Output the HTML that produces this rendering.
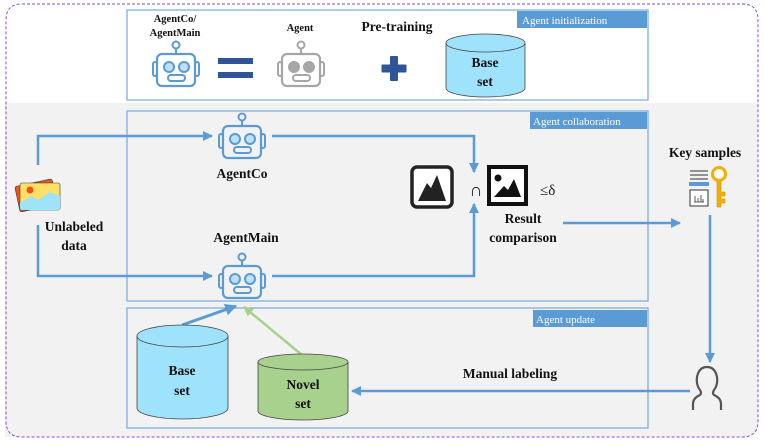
<!DOCTYPE html>
<html><head><meta charset="utf-8"><style>
html,body{margin:0;padding:0;background:#fff;}
svg{display:block;font-family:"Liberation Serif",serif;}
.b{font-weight:bold;fill:#111;}
</style></head><body>
<svg width="764" height="447" viewBox="0 0 764 447" xmlns="http://www.w3.org/2000/svg">
<defs>
<marker id="ah" viewBox="0 0 10 10" refX="9" refY="5" markerWidth="4" markerHeight="4" orient="auto"><path d="M0,0 L10,5 L0,10 z" fill="#5b9bd5"/></marker>
<marker id="ahg" viewBox="0 0 10 10" refX="9" refY="5" markerWidth="4" markerHeight="4" orient="auto"><path d="M0,0 L10,5 L0,10 z" fill="#a9d18e"/></marker>
<g id="robot">
<circle cx="0" cy="-25" r="3.5" fill="none" stroke-width="2"/>
<line x1="0" y1="-21.5" x2="0" y2="-16" stroke-width="2"/>
<rect x="-19" y="-16" width="38" height="32" rx="5" fill="none" stroke-width="2.2"/>
<rect x="-23" y="-8" width="4" height="14" rx="2" fill="none" stroke-width="2"/>
<rect x="19" y="-8" width="4" height="14" rx="2" fill="none" stroke-width="2"/>
<circle cx="-7" cy="-3" r="5" stroke-width="2"/>
<circle cx="8" cy="-3" r="5" stroke-width="2"/>
<rect x="-8" y="5" width="17" height="6" rx="3" fill="none" stroke-width="2"/>
</g>
</defs>
<!-- gray band -->
<path d="M5,103 H758 V425 Q758,436 745,437 H5 Z" fill="#f2f2f2"/>
<!-- outer dashed -->
<path d="M22,4 H742 Q758,4 758,20 V421 Q758,437 742,437 H22 Q6,437 6,421 V20 Q6,4 22,4 Z" fill="none" stroke="#8a4fd0" stroke-width="1" stroke-dasharray="3,2"/>

<!-- top box -->
<rect x="127" y="10" width="521" height="90" fill="#fff" stroke="#7fb0e0" stroke-width="1.3"/>
<rect x="517" y="11" width="130" height="17" fill="#5b9bd5"/>
<text x="522" y="24" font-size="11" fill="#fff">Agent initialization</text>
<text x="175" y="22" font-size="10.5" class="b" text-anchor="middle">AgentCo/</text>
<text x="175" y="36" font-size="10.5" class="b" text-anchor="middle">AgentMain</text>
<use href="#robot" x="176" y="70" stroke="#5b9bd5" fill="#bde0fb"/>
<rect x="218" y="58" width="35" height="6" fill="#2f5597"/>
<rect x="218" y="72" width="35" height="6" fill="#2f5597"/>
<text x="300" y="31" font-size="10.5" class="b" text-anchor="middle">Agent</text>
<use href="#robot" x="301" y="70" stroke="#a6a6a6" fill="#a6a6a6"/>
<text x="397" y="31" font-size="13.5" class="b" text-anchor="middle">Pre-training</text>
<rect x="390" y="56" width="8" height="25" rx="1" fill="#2f5597"/>
<rect x="381.5" y="64.5" width="25" height="8" rx="1" fill="#2f5597"/>
<path d="M446,43 V88 A39.5,9 0 0 0 525,88 V43" fill="#9fe2fb" stroke="#444" stroke-width="0.8"/>
<ellipse cx="485.5" cy="43" rx="39.5" ry="9" fill="#9fe2fb" stroke="#444" stroke-width="0.8"/>
<text x="485" y="67" font-size="13.5" class="b" text-anchor="middle">Base</text>
<text x="485" y="86" font-size="13.5" class="b" text-anchor="middle">set</text>

<!-- collaboration box -->
<rect x="127" y="111" width="521" height="190" fill="none" stroke="#7fb0e0" stroke-width="1.3"/>
<rect x="530" y="112" width="117" height="17" fill="#5b9bd5"/>
<text x="533" y="125" font-size="11" fill="#fff">Agent collaboration</text>

<path d="M38,165 V136 H212" fill="none" stroke="#5b9bd5" stroke-width="2.5" marker-end="url(#ah)"/>
<path d="M38,225 V276 H212" fill="none" stroke="#5b9bd5" stroke-width="2.5" marker-end="url(#ah)"/>
<path d="M272,136 H474 V172" fill="none" stroke="#5b9bd5" stroke-width="2.5" marker-end="url(#ah)"/>
<path d="M272,276 H474 V204" fill="none" stroke="#5b9bd5" stroke-width="2.5" marker-end="url(#ah)"/>

<use href="#robot" x="242" y="142" stroke="#5b9bd5" fill="#bde0fb"/>
<text x="242" y="178" font-size="13.5" class="b" text-anchor="middle">AgentCo</text>
<text x="246" y="242" font-size="13.5" class="b" text-anchor="middle">AgentMain</text>
<use href="#robot" x="242" y="282" stroke="#5b9bd5" fill="#bde0fb"/>

<!-- data icon -->
<g transform="rotate(-12 38 195)">
<rect x="17" y="182" width="38" height="26" rx="2" fill="#f4511e" stroke="#333" stroke-width="0.6"/>
</g>
<rect x="20" y="183" width="40" height="27" rx="2" fill="#ffe066" stroke="#333" stroke-width="0.6"/>
<path d="M20,203 L31,196 L38,200 L50,192 L60,196 V208 Q60,210 58,210 H22 Q20,210 20,208 Z" fill="#9fe2fb"/>
<circle cx="30" cy="190" r="3.5" fill="#f4511e"/>
<text x="74" y="231" font-size="13.5" class="b" text-anchor="middle">Unlabeled</text>
<text x="74" y="250" font-size="13.5" class="b" text-anchor="middle">data</text>

<!-- result comparison -->
<rect x="412" y="167" width="40" height="40" rx="5" fill="#fff" stroke="#222" stroke-width="3.5"/>
<path d="M418,201 L427,183 L431,188 L437,175 L446,201 Z" fill="#222"/>
<text x="476" y="196" font-size="18" text-anchor="middle" fill="#222">∩</text>
<rect x="489" y="167" width="37" height="37" fill="#fff" stroke="#111" stroke-width="4"/>
<circle cx="498" cy="178" r="3.5" fill="#111"/>
<path d="M494,197 L504,186 L508,190 L514,179 L521,197 Z" fill="#111"/>
<text x="540" y="195" font-size="15" fill="#222">≤δ</text>
<text x="523" y="223" font-size="13.5" class="b" text-anchor="middle">Result</text>
<text x="523" y="242" font-size="13.5" class="b" text-anchor="middle">comparison</text>
<path d="M563,223 H680" fill="none" stroke="#5b9bd5" stroke-width="2.5" marker-end="url(#ah)"/>

<!-- key samples -->
<text x="705" y="157" font-size="13.5" class="b" text-anchor="middle">Key samples</text>
<line x1="690" y1="171" x2="708" y2="171" stroke="#333" stroke-width="1"/>
<line x1="690" y1="175" x2="708" y2="175" stroke="#333" stroke-width="1"/>
<line x1="690" y1="179" x2="708" y2="179" stroke="#333" stroke-width="1"/>
<rect x="689" y="182" width="20" height="4" fill="#5b9bd5"/>
<rect x="690" y="190" width="18" height="16" fill="#fff" stroke="#333" stroke-width="1"/>
<path d="M694,202 H704 M695,202 V196 M698,202 V198 M701,202 V195 M703,202 V199" stroke="#333" stroke-width="0.8"/>
<circle cx="719" cy="174" r="6.5" fill="#fff" stroke="#f4b000" stroke-width="3"/>
<path d="M717,180 V207 H721 V203 H725 V199 H721 V196 H725 V192 H721 V180" fill="#f4b000" stroke="#c08a00" stroke-width="0.5"/>
<path d="M710,215 V362" fill="none" stroke="#5b9bd5" stroke-width="2.5" marker-end="url(#ah)"/>

<!-- update box -->
<rect x="127" y="308" width="521" height="120" fill="none" stroke="#7fb0e0" stroke-width="1.3"/>
<rect x="533" y="310" width="114" height="17" fill="#5b9bd5"/>
<text x="536" y="323" font-size="11" fill="#fff">Agent update</text>

<path d="M182,325 L236,306" fill="none" stroke="#5b9bd5" stroke-width="3" marker-end="url(#ah)"/>
<path d="M302,355 L244,307" fill="none" stroke="#a9d18e" stroke-width="2.5" marker-end="url(#ahg)"/>

<path d="M137,336 V408 A45.5,11 0 0 0 228,408 V336" fill="#9fe2fb" stroke="#444" stroke-width="0.8"/>
<ellipse cx="182.5" cy="336" rx="45.5" ry="11" fill="#9fe2fb" stroke="#444" stroke-width="0.8"/>
<text x="182" y="375" font-size="13.5" class="b" text-anchor="middle">Base</text>
<text x="182" y="395" font-size="13.5" class="b" text-anchor="middle">set</text>

<path d="M258,362 V411 A45,9 0 0 0 348,411 V362" fill="#a9d18e" stroke="#444" stroke-width="0.8"/>
<ellipse cx="303" cy="362" rx="45" ry="8" fill="#a9d18e" stroke="#444" stroke-width="0.8"/>
<text x="303" y="389" font-size="13.5" class="b" text-anchor="middle">Novel</text>
<text x="303" y="408" font-size="13.5" class="b" text-anchor="middle">set</text>

<text x="510" y="378" font-size="13.5" class="b" text-anchor="middle">Manual labeling</text>
<path d="M690,391 H352" fill="none" stroke="#5b9bd5" stroke-width="2.5" marker-end="url(#ah)"/>

<!-- person -->
<path d="M693,410 V404 Q693,398 700,395 Q702,393 700,390 Q696,385 697,377 Q699,367 707,367 Q715,367 717,377 Q718,385 714,390 Q712,393 714,395 Q721,398 721,404 V410" fill="none" stroke="#555" stroke-width="2.2" stroke-linejoin="round"/>
</svg>
</body></html>
